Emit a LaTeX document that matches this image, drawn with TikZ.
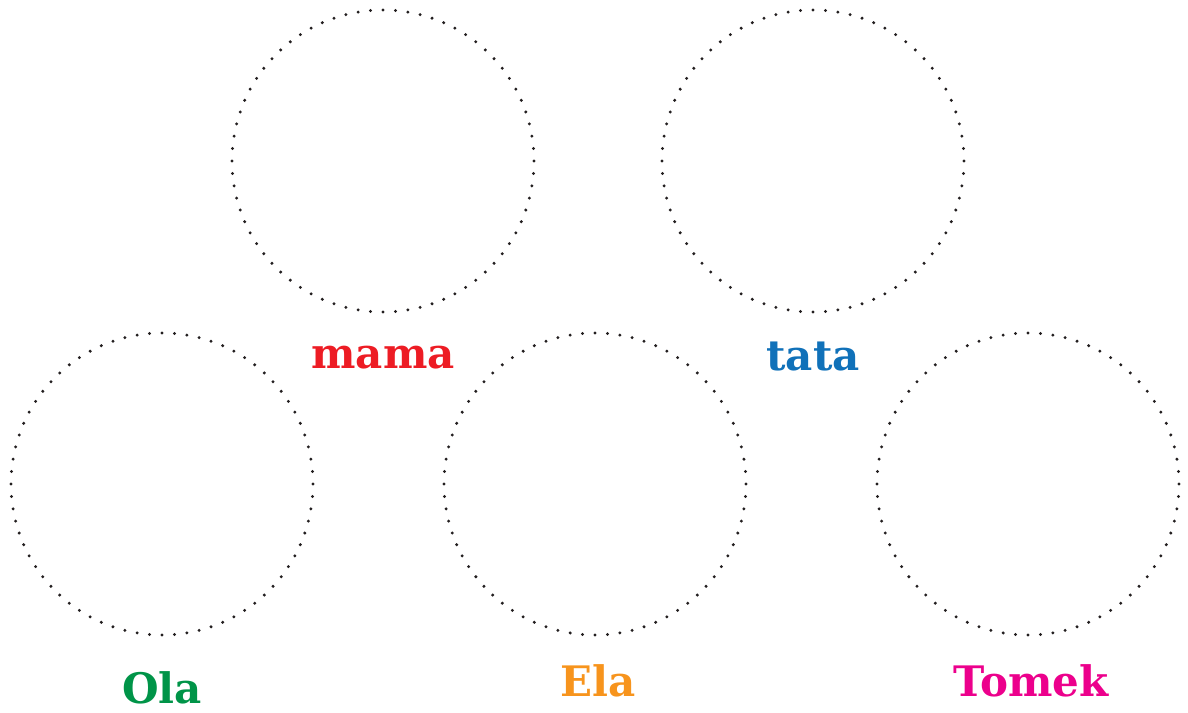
\documentclass[tikz,border=0pt]{standalone}
\usepackage{fontspec}
\setmainfont{DejaVu Serif}
\definecolor{cmama}{HTML}{ED1C24}
\definecolor{ctata}{HTML}{1071B9}
\definecolor{cola}{HTML}{009448}
\definecolor{cela}{HTML}{F7941D}
\definecolor{ctomek}{HTML}{EC008C}
\definecolor{dotc}{HTML}{231F20}
\begin{document}
\begin{tikzpicture}[x=1pt,y=-1pt,
  ring/.style={circle,minimum size=302pt,inner sep=0pt},
  lbl/.style={font=\fontsize{42}{46}\selectfont\bfseries,inner sep=0pt,anchor=base}]
\useasboundingbox (0,0) rectangle (1188,712);
\node[ring] (cmamaC) at (383,161) {};
\node[ring] (ctataC) at (813,161) {};
\node[ring] (colaC) at (162,484) {};
\node[ring] (celaC) at (595,484) {};
\node[ring] (ctomekC) at (1028,484) {};
\foreach \c in {cmamaC,ctataC,colaC,celaC,ctomekC}{
  \foreach \i [evaluate=\i as \a using 4.73684*\i] in {0,...,75}{
    \fill[dotc,shift={(\c.center)}] (\a:151pt) circle[radius=1.65pt];
  }
}
\node[lbl,text=cmama] (lmama) at (383,368) {mama};
\node[lbl,text=ctata] (ltata) at (813,370) {tata};
\node[lbl,text=cola] (lola) at (162,703) {Ola};
\node[lbl,text=cela] (lela) at (598,696) {Ela};
\node[lbl,text=ctomek] (ltomek) at (1031,696) {Tomek};
\end{tikzpicture}
\end{document}
